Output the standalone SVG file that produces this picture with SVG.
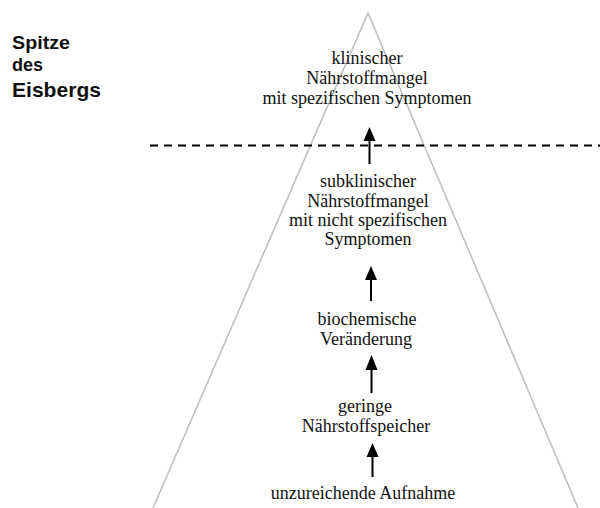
<svg xmlns="http://www.w3.org/2000/svg" width="600" height="508" viewBox="0 0 600 508">
  <defs>
    <style>
      .lbl { font-family: "Liberation Serif", "Times New Roman", serif; font-size: 18px; fill: #111; text-anchor: middle; }
      .side { font-family: "Liberation Sans", Arial, sans-serif; font-weight: bold; fill: #111; }
      .shaft { stroke: #000; stroke-width: 2; fill: none; }
      .head { fill: #000; stroke: none; }
      .berg { stroke: #bdbdbd; stroke-width: 1.5; fill: none; }
    </style>
  </defs>
  <rect x="0" y="0" width="600" height="508" fill="#fff"/>

  <g id="iceberg">
    <polyline class="berg" points="153,508 368,13 578,508"/>
  </g>

  <g id="waterline">
    <line x1="150" y1="145.5" x2="600" y2="145.5" stroke="#000" stroke-width="2" stroke-dasharray="8,6"/>
  </g>

  <g id="title">
    <text class="side" x="12" y="49" font-size="18" textLength="58" lengthAdjust="spacingAndGlyphs">Spitze</text>
    <text class="side" x="12" y="71" font-size="18">des</text>
    <text class="side" x="12" y="97" font-size="20.5" textLength="89" lengthAdjust="spacingAndGlyphs">Eisbergs</text>
  </g>

  <g id="node-klinisch">
    <text class="lbl" x="367" y="64">klinischer</text>
    <text class="lbl" x="367" y="84">Nährstoffmangel</text>
    <text class="lbl" x="367" y="104">mit spezifischen Symptomen</text>
  </g>

  <g id="node-subklinisch">
    <text class="lbl" x="368" y="187">subklinischer</text>
    <text class="lbl" x="368" y="206.5">Nährstoffmangel</text>
    <text class="lbl" x="368" y="226">mit nicht spezifischen</text>
    <text class="lbl" x="368" y="245">Symptomen</text>
  </g>

  <g id="node-biochemisch">
    <text class="lbl" x="367" y="325">biochemische</text>
    <text class="lbl" x="366" y="345">Veränderung</text>
  </g>

  <g id="node-speicher">
    <text class="lbl" x="365" y="412">geringe</text>
    <text class="lbl" x="366" y="432">Nährstoffspeicher</text>
  </g>

  <g id="node-aufnahme">
    <text class="lbl" x="363" y="499">unzureichende Aufnahme</text>
  </g>

  <g id="connectors">
    <line class="shaft" x1="369.5" y1="164" x2="369.5" y2="139"/>
    <polygon class="head" points="369.5,127 363.5,141 375.5,141"/>

    <line class="shaft" x1="371" y1="301" x2="371" y2="278"/>
    <polygon class="head" points="371,266 365,280 377,280"/>

    <line class="shaft" x1="371.5" y1="393" x2="371.5" y2="368"/>
    <polygon class="head" points="371.5,355 365.5,370 377.5,370"/>

    <line class="shaft" x1="372.5" y1="477" x2="372.5" y2="455"/>
    <polygon class="head" points="372.5,443 366.5,457 378.5,457"/>
  </g>
</svg>
